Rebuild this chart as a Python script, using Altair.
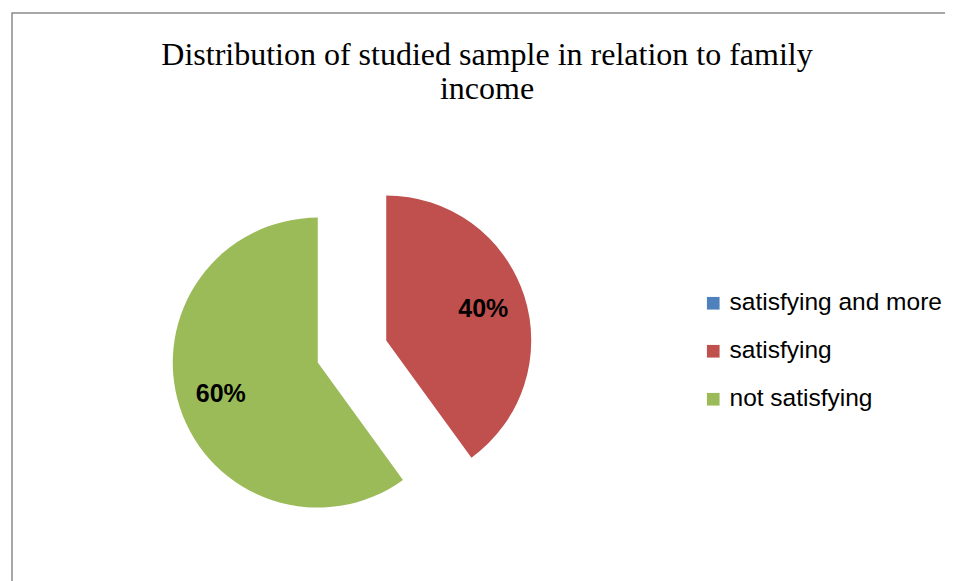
import altair as alt
import pandas as pd

categories = ["satisfying and more", "satisfying", "not satisfying"]
values = [0, 40, 60]
colors = ["#4F81BD", "#C0504D", "#9BBB59"]
order = [0, 1, 2]

df = pd.DataFrame({"category": categories, "value": values, "order": order})

W, H = 950, 600
CX, CY = 340, 338.5
R = 145
EXPLODE = 36
LABEL_R = 102

base = (
    alt.Chart(df)
    .transform_joinaggregate(total="sum(value)")
    .transform_window(cum="sum(value)", sort=[alt.SortField("order")], frame=[None, 0])
    .transform_calculate(end="2*PI*datum.cum/datum.total")
    .transform_calculate(start="2*PI*(datum.cum-datum.value)/datum.total")
    .transform_calculate(mid="(datum.start+datum.end)/2")
    .transform_calculate(cx=f"{EXPLODE}*sin(datum.mid)")
    .transform_calculate(cy=f"{EXPLODE}*cos(datum.mid)")
    .transform_calculate(lx=f"datum.cx+{LABEL_R}*sin(datum.mid)")
    .transform_calculate(ly=f"datum.cy+{LABEL_R}*cos(datum.mid)")
    .transform_calculate(label="datum.value + '%'")
)

xs = alt.Scale(domain=[-CX, W - CX], nice=False, zero=False)
ys = alt.Scale(domain=[-(H - CY), CY], nice=False, zero=False)

arcs = base.mark_arc(radius=R).encode(
    x=alt.X("cx:Q", scale=xs, axis=None),
    y=alt.Y("cy:Q", scale=ys, axis=None),
    theta=alt.Theta("start:Q", scale=None),
    theta2=alt.Theta2("end:Q"),
    color=alt.Color(
        "category:N",
        scale=alt.Scale(domain=categories, range=colors),
        legend=alt.Legend(
            title=None,
            orient="none",
            legendX=689,
            legendY=278,
            symbolType="square",
            symbolSize=160,
            symbolStrokeWidth=0,
            labelFont="Liberation Sans",
            labelFontSize=24.5,
            labelColor="#000000",
            labelOffset=4,
            labelLimit=400,
            rowPadding=23,
        ),
    ),
)

labels = base.transform_filter("datum.value > 0").mark_text(
    font="Liberation Sans", fontWeight="bold", fontSize=25, color="#000000"
).encode(
    x=alt.X("lx:Q", scale=xs, axis=None),
    y=alt.Y("ly:Q", scale=ys, axis=None),
    text="label:N",
)

chart = (
    alt.layer(arcs, labels)
    .properties(
        width=W,
        height=H,
        autosize=alt.AutoSizeParams(type="none"),
        padding={"left": 4, "top": 5, "right": -17, "bottom": -32},
        title=alt.Title(
            ["Distribution of studied sample in relation to family", "income"],
            font="Liberation Serif",
            fontSize=32,
            fontWeight="normal",
            color="#000000",
            anchor="middle",
            frame="group",
            lineHeight=34,
            offset=-93,
        ),
    )
    .configure_view(stroke="#8a8a8a", strokeWidth=1.5)
)

chart.save("out.html", embed_options={"renderer": "svg", "actions": False})
